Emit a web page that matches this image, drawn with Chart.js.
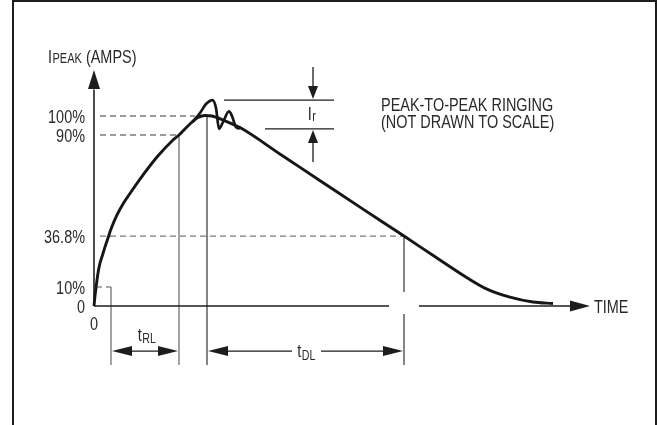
<!DOCTYPE html>
<html>
<head>
<meta charset="utf-8">
<script src="https://cdn.jsdelivr.net/npm/chart.js@4"></script>
<style>
  html, body { margin: 0; padding: 0; background: #fff; }
  #wrap { width: 657px; height: 425px; position: relative; }
</style>
</head>
<body>
<div id="wrap"><canvas id="c" width="657" height="425"></canvas></div>
<script>
// ---- data (time in arbitrary units, current in % of peak) ----
const curveTime    = [0, 0.2, 0.4, 0.6, 0.9, 1.2, 1.7, 2.2, 2.8, 3.4, 4.6, 5.8, 7.4, 9.2, 12.6, 15.8, 17, 19.2, 20.8, 22.2, 23.6, 25.8, 29.2, 37.4, 45.6, 53.8, 62, 68.3, 74.6, 78.6, 83.2, 87.8, 91.8];
const curveCurrent = [0, 5.3, 9.5, 13.7, 18.9, 22.6, 26.8, 31.1, 35.8, 40.5, 47.9, 53.7, 60, 66.8, 78.4, 87.4, 90, 95.8, 99.2, 100.3, 100, 97.9, 93.9, 79.6, 65.3, 51, 36.8, 25.8, 14.9, 8.9, 4.7, 2.1, 1.3];
const ringTime     = [19.6, 21.2, 22.4, 23.7, 24.4, 25, 25.8, 27, 27.6, 28.4, 29.2];
const ringCurrent  = [96.6, 101.6, 106.3, 108.4, 104.2, 93.2, 96.8, 102.4, 100, 94.2, 93.4];
const levelValues  = [0, 10, 36.8, 90, 100];
const levelLabels  = ['0', '10%', '36.8%', '90%', '100%'];
const xTickValues  = [0];
const xTickLabels  = ['0'];
const markerTimes  = { t10: 3.4, t90: 17, t100: 22.6, t368: 62 };
const ringLevels   = { top: 108.4, bottom: 93.2 };

const FONT = '"Liberation Sans", Arial, sans-serif';
const SQ = 0.76; // horizontal squeeze to mimic a condensed face
const FS = 19;
const INK = '#1d1d1d';
const TXT = '#2a2a2a';

function toXY(xs, ys) { return xs.map((x, i) => ({ x: x, y: ys[i] })); }

function arrowHead(ctx, tx, ty, dir, len, half) {
  ctx.beginPath();
  if (dir === 'up')    { ctx.moveTo(tx, ty); ctx.lineTo(tx - half, ty + len); ctx.lineTo(tx + half, ty + len); }
  if (dir === 'down')  { ctx.moveTo(tx, ty); ctx.lineTo(tx - half, ty - len); ctx.lineTo(tx + half, ty - len); }
  if (dir === 'left')  { ctx.moveTo(tx, ty); ctx.lineTo(tx + len, ty - half); ctx.lineTo(tx + len, ty + half); }
  if (dir === 'right') { ctx.moveTo(tx, ty); ctx.lineTo(tx - len, ty - half); ctx.lineTo(tx - len, ty + half); }
  ctx.closePath();
  ctx.fill();
}
function line(ctx, x1, y1, x2, y2) { ctx.beginPath(); ctx.moveTo(x1, y1); ctx.lineTo(x2, y2); ctx.stroke(); }

function tw(ctx, text, size) { ctx.font = size + 'px ' + FONT; return ctx.measureText(text).width * SQ; }
function sText(ctx, text, x, y, size, align) {
  const w = tw(ctx, text, size);
  let x0 = x;
  if (align === 'right') x0 = x - w;
  if (align === 'center') x0 = x - w / 2;
  ctx.save();
  ctx.translate(x0, y);
  ctx.scale(SQ, 1);
  ctx.font = size + 'px ' + FONT;
  ctx.textAlign = 'left';
  ctx.textBaseline = 'alphabetic';
  ctx.fillText(text, 0, 0);
  ctx.restore();
  return x0 + w;
}
function subText(ctx, x, y, main, sub, mainSize, subSize, dy, align) {
  const w1 = tw(ctx, main, mainSize), w2 = tw(ctx, sub, subSize);
  let x0 = x;
  if (align === 'center') x0 = x - (w1 + w2) / 2;
  sText(ctx, main, x0, y, mainSize, 'left');
  sText(ctx, sub, x0 + w1 + 0.5, y + dy, subSize, 'left');
  return x0 + w1 + w2 + 0.5;
}

const under = {
  id: 'under',
  beforeDatasetsDraw(chart) {
    const ctx = chart.ctx, X = v => chart.scales.x.getPixelForValue(v), Y = v => chart.scales.y.getPixelForValue(v);
    ctx.save();
    ctx.strokeStyle = INK; ctx.lineWidth = 2;
    ctx.beginPath(); ctx.moveTo(13, 430); ctx.lineTo(13, 1); ctx.lineTo(656, 1); ctx.lineTo(656, 430); ctx.stroke();
    ctx.strokeStyle = '#7a7a7a'; ctx.lineWidth = 1.3; ctx.setLineDash([6, 4]);
    line(ctx, X(1.2), Y(100), X(20.2), Y(100));
    line(ctx, X(1.2), Y(90), X(markerTimes.t90), Y(90));
    line(ctx, X(1.2), Y(36.8), X(markerTimes.t368), Y(36.8));
    ctx.setLineDash([]);
    line(ctx, X(0.7), Y(10), X(1.6), Y(10));
    line(ctx, X(2.4), Y(10), X(markerTimes.t10), Y(10));
    const yb = Y(-31);
    ctx.strokeStyle = '#666'; ctx.lineWidth = 1.2;
    line(ctx, X(markerTimes.t10), Y(10), X(markerTimes.t10), yb);
    line(ctx, X(markerTimes.t90), Y(90), X(markerTimes.t90), yb);
    ctx.strokeStyle = '#333';
    line(ctx, X(markerTimes.t100), Y(100.3), X(markerTimes.t100), yb);
    line(ctx, X(markerTimes.t368), Y(36.8), X(markerTimes.t368), Y(7.4));
    line(ctx, X(markerTimes.t368), Y(-4.2), X(markerTimes.t368), yb);
    ctx.strokeStyle = INK; ctx.fillStyle = INK; ctx.lineWidth = 1.6;
    line(ctx, X(0), Y(0), X(0), Y(114));
    arrowHead(ctx, X(0), Y(124.2), 'up', 19, 6);
    line(ctx, X(0), Y(0), X(59), Y(0));
    line(ctx, X(65), Y(0), X(95.5), Y(0));
    arrowHead(ctx, X(99.2), Y(0), 'right', 20, 5.5);
    ctx.restore();
  },
  afterDatasetsDraw(chart) {
    const ctx = chart.ctx, xs = chart.scales.x, ys = chart.scales.y;
    const X = v => xs.getPixelForValue(v), Y = v => ys.getPixelForValue(v);
    ctx.save();
    ctx.fillStyle = TXT;
    ys.ticks.forEach(t => {
      const i = levelValues.indexOf(t.value);
      if (i >= 0) sText(ctx, levelLabels[i], X(0) - 9, Y(t.value) + 7, FS, 'right');
    });
    xs.ticks.forEach(t => {
      const i = xTickValues.indexOf(t.value);
      if (i >= 0) sText(ctx, xTickLabels[i], X(t.value), Y(0) + 24, FS, 'center');
    });
    const e = subText(ctx, 48, 63.3, 'I', 'PEAK', FS, 14.5, 0, 'left');
    sText(ctx, '(AMPS)', e + 4, 63.3, FS, 'left');
    sText(ctx, 'TIME', X(99.2) + 4, Y(0) + 7, FS, 'left');
    const ya = Y(-23.7);
    ctx.strokeStyle = INK; ctx.fillStyle = INK; ctx.lineWidth = 1.3;
    line(ctx, X(markerTimes.t10) + 5, ya, X(markerTimes.t90) - 5, ya);
    arrowHead(ctx, X(markerTimes.t10) + 1, ya, 'left', 20, 5);
    arrowHead(ctx, X(markerTimes.t90) - 1, ya, 'right', 20, 5);
    line(ctx, X(markerTimes.t100) + 5, ya, X(39.6), ya);
    line(ctx, X(45.4), ya, X(markerTimes.t368) - 5, ya);
    arrowHead(ctx, X(markerTimes.t100) + 1, ya, 'left', 20, 5);
    arrowHead(ctx, X(markerTimes.t368) - 1, ya, 'right', 20, 5);
    ctx.fillStyle = TXT;
    subText(ctx, X(10.5), Y(-18.2), 't', 'RL', FS, 14, 2, 'center');
    subText(ctx, X(42.4), Y(-26.6), 't', 'DL', FS, 14, 3, 'center');
    ctx.strokeStyle = INK; ctx.fillStyle = INK; ctx.lineWidth = 1.3;
    const xr = X(43.8);
    line(ctx, X(26), Y(ringLevels.top), X(48), Y(ringLevels.top));
    line(ctx, X(34.2), Y(ringLevels.bottom), X(48), Y(ringLevels.bottom));
    line(ctx, xr, Y(125.8), xr, Y(ringLevels.top) - 8);
    arrowHead(ctx, xr, Y(ringLevels.top) - 1, 'down', 13, 5);
    line(ctx, xr, Y(ringLevels.bottom) + 8, xr, Y(75.8));
    arrowHead(ctx, xr, Y(ringLevels.bottom) + 1, 'up', 13, 5);
    ctx.fillStyle = TXT;
    subText(ctx, X(43.5), Y(98), 'I', 'r', FS, 14.5, 1, 'center');
    sText(ctx, 'PEAK-TO-PEAK RINGING', X(57.4), Y(102.5), FS, 'left');
    sText(ctx, '(NOT DRAWN TO SCALE)', X(57.4), Y(93.8), FS, 'left');
    ctx.restore();
  }
};

new Chart(document.getElementById('c'), {
  type: 'scatter',
  data: {
    datasets: [
      { data: toXY(curveTime, curveCurrent), showLine: true, borderColor: '#161616', borderWidth: 2.9,
        pointRadius: 0, cubicInterpolationMode: 'monotone', clip: false },
      { data: toXY(ringTime, ringCurrent), showLine: true, borderColor: '#161616', borderWidth: 2.7,
        pointRadius: 0, cubicInterpolationMode: 'monotone', clip: false }
    ]
  },
  options: {
    responsive: false,
    animation: false,
    layout: { padding: { left: 0, right: 63, top: 68.5, bottom: 0 } },
    plugins: { legend: { display: false }, tooltip: { enabled: false } },
    scales: {
      x: {
        type: 'linear', min: 0, max: 100,
        grid: { display: false, drawTicks: false }, border: { display: false },
        afterBuildTicks: s => { s.ticks = xTickValues.map(v => ({ value: v })); },
        afterFit: s => { s.height = 119; },
        ticks: { display: false }
      },
      y: {
        type: 'linear', min: 0, max: 125,
        grid: { display: false, drawTicks: false }, border: { display: false },
        afterBuildTicks: s => { s.ticks = levelValues.map(v => ({ value: v })); },
        afterFit: s => { s.width = 94; },
        ticks: { display: false }
      }
    }
  },
  plugins: [under]
});
</script>
</body>
</html>
